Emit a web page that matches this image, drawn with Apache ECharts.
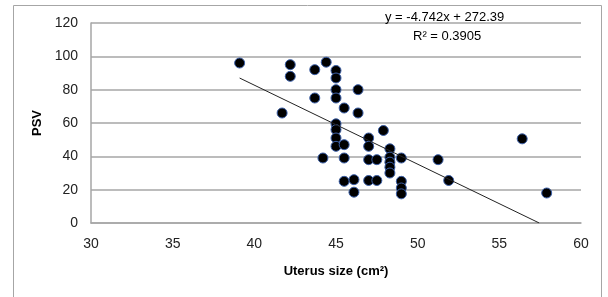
<!DOCTYPE html>
<html>
<head>
<meta charset="utf-8">
<script src="https://cdn.jsdelivr.net/npm/echarts@6/dist/echarts.min.js"></script>
<style>
  html, body { margin: 0; padding: 0; background: #fff; }
  #chart { width: 608px; height: 297px; }
</style>
</head>
<body>
<div id="chart"></div>
<script>
    // uterus size (cm2) vs PSV
    var uterusSize = [39.1, 41.7, 42.2, 42.2, 43.7, 43.7, 44.2, 44.4, 45.0, 45.0,
        45.0, 45.0, 45.0, 45.0, 45.0, 45.0, 45.5, 45.5, 45.5, 45.5,
        46.1, 46.1, 46.35, 46.35, 47.0, 47.0, 47.0, 47.0, 47.5, 47.5,
        47.9, 48.3, 48.3, 48.3, 48.3, 48.3, 49.0, 49.0, 49.0, 49.0,
        51.25, 51.9, 56.4, 57.9];
    var psv = [96, 66, 95, 88, 92, 75, 39, 96.5, 91.5, 87,
        80, 75, 59.5, 56, 51, 46, 69, 47, 39, 25,
        26, 18.5, 80, 66, 51, 46, 38, 25.5, 38, 25.5,
        55.5, 44.5, 39.5, 36.5, 33.5, 30, 39, 25, 21, 17.5,
        38, 25.5, 50.5, 18];
    // linear trendline y = -4.742x + 272.39
    var slope = -4.742;
    var intercept = 272.39;
    var trendX = [39.1, 57.44];

    var points = [];
    for (var i = 0; i < uterusSize.length; i++) {
        points.push([uterusSize[i], psv[i]]);
    }
    var trendData = [];
    for (var j = 0; j < trendX.length; j++) {
        trendData.push([trendX[j], Math.max(0, slope * trendX[j] + intercept)]);
    }

    var myChart = echarts.init(document.getElementById('chart'));
    var font = 'Liberation Sans, Arial, sans-serif';
    var option = {
        animation: false,
        backgroundColor: '#fff',
        grid: {
            left: 91,
            right: 27,
            top: 23,
            bottom: 74
        },
        graphic: [{
            type: 'rect',
            shape: { x: 13.5, y: 5.5, width: 588, height: 320 },
            style: { fill: 'none', stroke: '#a6a6a6', lineWidth: 1 },
            silent: true
        }, {
            type: 'text',
            left: 385,
            top: 11,
            style: {
                text: 'y = -4.742x + 272.39',
                font: '13px ' + font,
                fill: '#000'
            },
            z: 10
        }, {
            type: 'text',
            left: 413,
            top: 30,
            style: {
                text: 'R² = 0.3905',
                font: '13px ' + font,
                fill: '#000'
            },
            z: 10
        }],
        xAxis: {
            type: 'value',
            min: 30,
            max: 60,
            interval: 5,
            name: 'Uterus size (cm²)',
            nameLocation: 'middle',
            nameGap: 42,
            nameTextStyle: { fontFamily: font, fontSize: 13, fontWeight: 'bold', color: '#000' },
            axisLine: { show: true, lineStyle: { color: '#a6a6a6', width: 1.5 } },
            axisTick: { show: false },
            axisLabel: { fontFamily: font, fontSize: 14, color: '#222', margin: 14 },
            splitLine: { show: false }
        },
        yAxis: {
            type: 'value',
            min: 0,
            max: 120,
            interval: 20,
            name: 'PSV',
            nameLocation: 'middle',
            nameGap: 46,
            nameRotate: 90,
            nameTextStyle: { fontFamily: font, fontSize: 13, fontWeight: 'bold', color: '#000' },
            axisLine: { show: true, lineStyle: { color: '#a6a6a6', width: 1.5 } },
            axisTick: { show: false },
            axisLabel: { fontFamily: font, fontSize: 14, color: '#222', margin: 13 },
            splitLine: { show: true, lineStyle: { color: '#a6a6a6', width: 1.5 } }
        },
        series: [{
            name: 'PSV',
            type: 'scatter',
            data: points,
            symbol: 'circle',
            symbolSize: 10,
            itemStyle: { color: '#000', opacity: 1, borderColor: '#3b5fa8', borderWidth: 1 },
            z: 3
        }, {
            name: 'trend',
            type: 'line',
            data: trendData,
            symbol: 'none',
            lineStyle: { color: '#222', width: 1 },
            z: 4
        }]
    };
    myChart.setOption(option);
</script>
</body>
</html>
